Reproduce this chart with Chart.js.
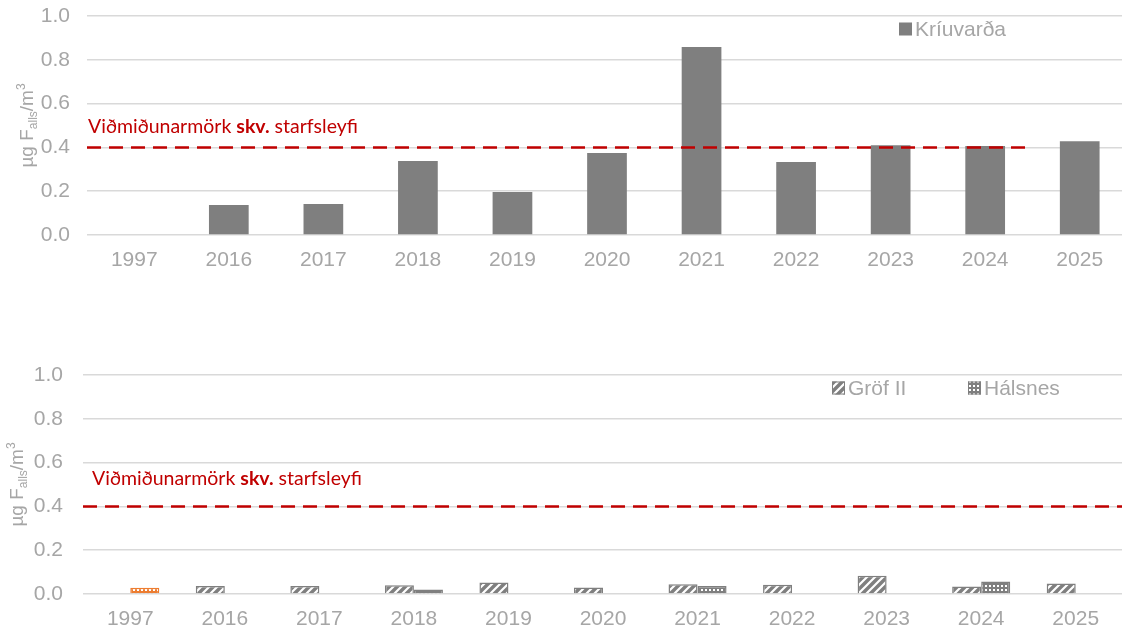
<!DOCTYPE html>
<html>
<head>
<meta charset="utf-8">
<script src="https://cdn.jsdelivr.net/npm/chart.js@4/dist/chart.umd.min.js"></script>
<style>
  html, body { margin: 0; padding: 0; background: #fff; overflow: hidden; }
  .wrap { position: absolute; left: 0; }
  #topWrap { top: 0; width: 1127px; height: 316px; }
  #bottomWrap { top: 316px; width: 1123px; height: 316px; }
</style>
</head>
<body>
<div class="wrap" id="topWrap"><canvas id="topChart"></canvas></div>
<div class="wrap" id="bottomWrap"><canvas id="bottomChart"></canvas></div>
<script>
// Data
const years = ["1997", "2016", "2017", "2018", "2019", "2020", "2021", "2022", "2023", "2024", "2025"];
const kriuvarda = [null, 0.137, 0.142, 0.338, 0.196, 0.374, 0.858, 0.333, 0.41, 0.406, 0.428];
const grofII = [null, 0.036, 0.036, 0.040, 0.052, 0.030, 0.045, 0.042, 0.083, 0.034, 0.048];
const halsnes = [0.028, null, null, 0.020, null, null, 0.037, null, null, 0.057, null];
const yTicks = [0, 0.2, 0.4, 0.6, 0.8, 1.0];
const limitValue = 0.4;
const limitLabel = ["Viðmiðunarmörk ", "skv.", " starfsleyfi"];

const GRAY = "#7F7F7F";
const ORANGE = "#ED7D31";
const TICK_GRAY = "#A6A6A6";
const RED = "#C00000";
const FONT = "'Liberation Sans', Arial, sans-serif";

// Hatch patterns
function stripePattern(color) {
  const c = document.createElement("canvas");
  c.width = 8; c.height = 8;
  const g = c.getContext("2d");
  g.fillStyle = color;
  g.fillRect(0, 0, 8, 8);
  g.strokeStyle = "#fff";
  g.lineWidth = 2.2;
  g.beginPath();
  g.moveTo(-2, 10); g.lineTo(10, -2);
  g.moveTo(-6, 6); g.lineTo(6, -6);
  g.moveTo(2, 14); g.lineTo(14, 2);
  g.stroke();
  return g.createPattern(c, "repeat");
}

function dotPattern(color) {
  const c = document.createElement("canvas");
  c.width = 4; c.height = 4;
  const g = c.getContext("2d");
  g.fillStyle = color;
  g.fillRect(0, 0, 4, 4);
  g.fillStyle = "#fff";
  g.fillRect(1, 1, 2, 2);
  return g.createPattern(c, "repeat");
}

const grofFill = stripePattern(GRAY);
const halsFill = dotPattern(GRAY);
const halsFillOrange = dotPattern(ORANGE);

// Draws limit line, its label, y title and legend
const extrasPlugin = {
  id: "extras",
  afterDatasetsDraw(chart, args, opts) {
    const ctx = chart.ctx;
    const area = chart.chartArea;
    const yScale = chart.scales.y;
    const yPix = yScale.getPixelForValue(limitValue);

    // dashed limit line
    ctx.save();
    ctx.strokeStyle = RED;
    ctx.lineWidth = 2.5;
    ctx.setLineDash([14, 8]);
    ctx.beginPath();
    ctx.moveTo(area.left, yPix);
    ctx.lineTo(area.left + area.width * opts.lineEnd, yPix);
    ctx.stroke();
    ctx.restore();

    // label above the line
    ctx.save();
    ctx.fillStyle = RED;
    ctx.textBaseline = "alphabetic";
    let x = area.left + opts.textDx;
    limitLabel.forEach((part, i) => {
      ctx.font = (i === 1 ? "bold " : "") + "19.5px Lato, 'Open Sans', sans-serif";
      ctx.fillText(part, x, yPix - opts.textDy);
      x += ctx.measureText(part).width;
    });
    ctx.restore();

    // y axis title with subscript and superscript
    const parts = [
      { t: "µg F", size: 19, dy: 0 },
      { t: "alls", size: 12, dy: 4 },
      { t: "/m", size: 19, dy: 0 },
      { t: "3", size: 12, dy: -8 },
    ];
    ctx.save();
    ctx.fillStyle = TICK_GRAY;
    ctx.translate(opts.titleX, (area.top + area.bottom) / 2);
    ctx.rotate(-Math.PI / 2);
    let total = 0;
    parts.forEach(p => { ctx.font = p.size + "px " + FONT; total += ctx.measureText(p.t).width; });
    let px = -total / 2;
    ctx.textBaseline = "alphabetic";
    parts.forEach(p => {
      ctx.font = p.size + "px " + FONT;
      ctx.fillText(p.t, px, 7 + p.dy);
      px += ctx.measureText(p.t).width;
    });
    ctx.restore();

    // legend inside the plot
    ctx.save();
    opts.legend.forEach(item => {
      const lx = area.left + item.dx;
      const ly = area.top + opts.legendDy;
      ctx.fillStyle = item.fill;
      ctx.fillRect(lx, ly - 6.5, 13, 13);
      if (item.border) {
        ctx.strokeStyle = item.border;
        ctx.lineWidth = 1;
        ctx.strokeRect(lx + 0.5, ly - 6, 12, 12);
      }
      ctx.fillStyle = TICK_GRAY;
      ctx.font = "21px " + FONT;
      ctx.textBaseline = "middle";
      ctx.fillText(item.label, lx + 16, ly + 1);
    });
    ctx.restore();
  }
};

function baseOptions(cfg) {
  return {
    responsive: true,
    maintainAspectRatio: false,
    animation: false,
    layout: { padding: { top: cfg.padTop, left: 0, right: 0, bottom: 0 } },
    plugins: {
      legend: { display: false },
      tooltip: { enabled: false },
      extras: cfg.extras,
    },
    scales: {
      x: {
        grid: { display: false },
        border: { display: false },
        ticks: { color: TICK_GRAY, font: { family: FONT, size: 21 }, padding: cfg.xPad },
        afterFit: s => { s.height = cfg.xHeight; },
      },
      y: {
        min: 0,
        max: 1,
        afterBuildTicks: s => { s.ticks = yTicks.map(v => ({ value: v })); },
        ticks: {
          color: TICK_GRAY,
          font: { family: FONT, size: 21 },
          padding: cfg.yPad,
          callback: v => Number(v).toFixed(1),
        },
        grid: { color: "#D9D9D9", lineWidth: 1.5, drawTicks: false },
        border: { display: false },
        afterFit: s => {
          s.width = cfg.yWidth;
          s.paddingTop = 0;
          s.paddingBottom = 0;
        },
      },
    },
  };
}

// Top chart: Kríuvarða
new Chart(document.getElementById("topChart"), {
  type: "bar",
  data: {
    labels: years,
    datasets: [{
      label: "Kríuvarða",
      data: kriuvarda,
      backgroundColor: GRAY,
      categoryPercentage: 0.42,
      barPercentage: 1,
    }],
  },
  options: baseOptions({
    padTop: 16, xHeight: 81, xPad: 5, yPad: 17, yWidth: 87,
    extras: {
      lineEnd: 0.905, textDx: 1, textDy: 14, titleX: 26, legendDy: 13,
      legend: [{ label: "Kríuvarða", fill: GRAY, dx: 812 }],
    },
  }),
  plugins: [extrasPlugin],
});

// Bottom chart: Gröf II and Hálsnes
new Chart(document.getElementById("bottomChart"), {
  type: "bar",
  data: {
    labels: years,
    datasets: [
      {
        label: "Gröf II",
        data: grofII,
        backgroundColor: grofFill,
        borderColor: GRAY,
        borderWidth: 1.5,
        categoryPercentage: 0.614,
        barPercentage: 1,
      },
      {
        label: "Hálsnes",
        data: halsnes,
        backgroundColor: c => (c.dataIndex === 0 ? halsFillOrange : halsFill),
        borderColor: c => (c.dataIndex === 0 ? ORANGE : GRAY),
        borderWidth: 1.5,
        categoryPercentage: 0.614,
        barPercentage: 1,
      },
    ],
  },
  options: baseOptions({
    padTop: 59, xHeight: 38, xPad: 5, yPad: 20, yWidth: 83,
    extras: {
      lineEnd: 1, textDx: 9, textDy: 21, titleX: 16, legendDy: 13,
      legend: [
        { label: "Gröf II", fill: grofFill, border: GRAY, dx: 749 },
        { label: "Hálsnes", fill: halsFill, border: GRAY, dx: 885 },
      ],
    },
  }),
  plugins: [extrasPlugin],
});
</script>
</body>
</html>
